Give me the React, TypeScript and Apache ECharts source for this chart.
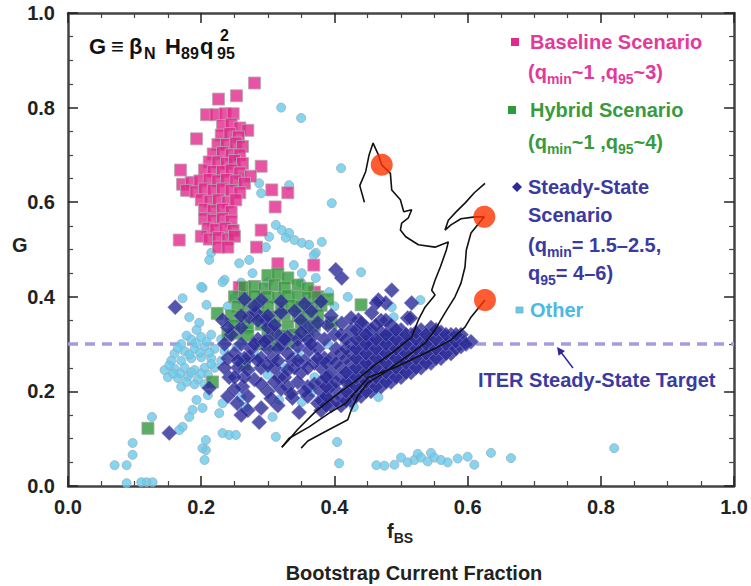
import React, { useEffect, useRef } from "react";
import * as echarts from "echarts";

const FONT = '"Liberation Sans", Arial, "DejaVu Sans", sans-serif';

// ---- data (G vs f_BS) ----
const baselinePts: number[][] = [
  [0.280, 0.852], [0.226, 0.818], [0.253, 0.825],
  [0.208, 0.785], [0.222, 0.785], [0.236, 0.787], [0.248, 0.787],
  [0.193, 0.734],
  [0.232, 0.762], [0.245, 0.765], [0.258, 0.757], [0.270, 0.752],
  [0.230, 0.742], [0.243, 0.745], [0.256, 0.738],
  [0.225, 0.722], [0.238, 0.722], [0.252, 0.725], [0.262, 0.718],
  [0.218, 0.702], [0.232, 0.705], [0.245, 0.700], [0.258, 0.700],
  [0.212, 0.685], [0.225, 0.685], [0.238, 0.682], [0.250, 0.688], [0.262, 0.682],
  [0.205, 0.668], [0.218, 0.665], [0.232, 0.665], [0.245, 0.668], [0.258, 0.662],
  [0.169, 0.668], [0.290, 0.676], [0.274, 0.655],
  [0.172, 0.638], [0.185, 0.642], [0.198, 0.645], [0.212, 0.648], [0.225, 0.645], [0.238, 0.648], [0.252, 0.645], [0.265, 0.640],
  [0.178, 0.625], [0.192, 0.622], [0.205, 0.628], [0.218, 0.625], [0.232, 0.628], [0.245, 0.625], [0.258, 0.620],
  [0.306, 0.626], [0.330, 0.620],
  [0.200, 0.605], [0.213, 0.602], [0.226, 0.605], [0.240, 0.600], [0.252, 0.605],
  [0.311, 0.590],
  [0.205, 0.585], [0.218, 0.582], [0.232, 0.585], [0.245, 0.580],
  [0.205, 0.565], [0.218, 0.562], [0.232, 0.565], [0.245, 0.560],
  [0.210, 0.545], [0.222, 0.542], [0.236, 0.545], [0.248, 0.540],
  [0.290, 0.541],
  [0.200, 0.528], [0.212, 0.522], [0.226, 0.525], [0.240, 0.522], [0.250, 0.528],
  [0.167, 0.520], [0.283, 0.505],
  [0.226, 0.505], [0.240, 0.505],
  [0.315, 0.470], [0.369, 0.467], [0.257, 0.420], [0.370, 0.410],
];

const hybridPts: number[][] = [
  [0.300, 0.445], [0.315, 0.448], [0.330, 0.440],
  [0.265, 0.420], [0.280, 0.422], [0.295, 0.418], [0.310, 0.425], [0.325, 0.420], [0.345, 0.425], [0.360, 0.418],
  [0.250, 0.400], [0.265, 0.398], [0.280, 0.402], [0.300, 0.400], [0.315, 0.398], [0.330, 0.402], [0.345, 0.400], [0.360, 0.398], [0.375, 0.400], [0.390, 0.395],
  [0.255, 0.380], [0.270, 0.378], [0.285, 0.382], [0.300, 0.380], [0.320, 0.378], [0.335, 0.382], [0.350, 0.380], [0.365, 0.378], [0.380, 0.382], [0.440, 0.383],
  [0.224, 0.365], [0.245, 0.360], [0.260, 0.358], [0.280, 0.362], [0.295, 0.360], [0.310, 0.358], [0.325, 0.362], [0.345, 0.360], [0.360, 0.358], [0.375, 0.362],
  [0.253, 0.323], [0.250, 0.340], [0.270, 0.338], [0.290, 0.342], [0.310, 0.340], [0.330, 0.338], [0.350, 0.342], [0.370, 0.340],
  [0.240, 0.320], [0.270, 0.318], [0.300, 0.322], [0.320, 0.318], [0.340, 0.320], [0.360, 0.318],
  [0.290, 0.300], [0.310, 0.298], [0.330, 0.302],
  [0.265, 0.258], [0.217, 0.220], [0.120, 0.122], [0.480, 0.315], [0.395, 0.345],
];

const steadyPts: number[][] = [
  [0.152, 0.112], [0.161, 0.378], [0.212, 0.207], [0.232, 0.351],
  [0.242, 0.230], [0.254, 0.175], [0.262, 0.210], [0.287, 0.135], [0.290, 0.165], [0.272, 0.273],
  [0.272, 0.357], [0.282, 0.367], [0.290, 0.393], [0.297, 0.350], [0.320, 0.367], [0.350, 0.350],
  [0.330, 0.315], [0.312, 0.323], [0.362, 0.287], [0.336, 0.266], [0.307, 0.270], [0.317, 0.230],
  [0.337, 0.186], [0.347, 0.156], [0.380, 0.250], [0.389, 0.188], [0.402, 0.203], [0.426, 0.281],
  [0.411, 0.344], [0.451, 0.309], [0.451, 0.252], [0.402, 0.457], [0.411, 0.440], [0.466, 0.393],
  [0.486, 0.414], [0.436, 0.351], [0.447, 0.336], [0.477, 0.387], [0.463, 0.387], [0.516, 0.387],
  [0.510, 0.355], [0.470, 0.350], [0.456, 0.366], [0.514, 0.355], [0.477, 0.350],
  [0.260, 0.300], [0.285, 0.310], [0.300, 0.290], [0.320, 0.300], [0.345, 0.310], [0.370, 0.320],
  [0.390, 0.340], [0.400, 0.320], [0.365, 0.370], [0.380, 0.390], [0.395, 0.360], [0.290, 0.250],
  [0.310, 0.250], [0.350, 0.240], [0.360, 0.210], [0.330, 0.210], [0.300, 0.200], [0.270, 0.190],
  [0.315, 0.170], [0.280, 0.225], [0.255, 0.250], [0.240, 0.270], [0.260, 0.335], [0.375, 0.175],
  [0.360, 0.190], [0.265, 0.270],
  [0.235, 0.300], [0.250, 0.280], [0.245, 0.320], [0.275, 0.290], [0.290, 0.270], [0.300, 0.310],
  [0.315, 0.290], [0.330, 0.280], [0.345, 0.295], [0.360, 0.310], [0.375, 0.290], [0.385, 0.270],
  [0.370, 0.260], [0.355, 0.265], [0.340, 0.250], [0.325, 0.230], [0.345, 0.220], [0.290, 0.215],
  [0.265, 0.230], [0.250, 0.205], [0.270, 0.160], [0.260, 0.150], [0.305, 0.185], [0.320, 0.205],
  [0.240, 0.190], [0.380, 0.200], [0.390, 0.230], [0.360, 0.335], [0.375, 0.345], [0.385, 0.310],
  [0.300, 0.335], [0.285, 0.350], [0.240, 0.335],
  [0.260, 0.360], [0.280, 0.380], [0.300, 0.360], [0.320, 0.390], [0.340, 0.370], [0.310, 0.340],
  [0.265, 0.395], [0.355, 0.385],
  [0.255, 0.265], [0.270, 0.245], [0.285, 0.265], [0.300, 0.255], [0.315, 0.265], [0.330, 0.245],
  [0.345, 0.265], [0.360, 0.250], [0.375, 0.270], [0.280, 0.300], [0.295, 0.305], [0.325, 0.310],
  [0.350, 0.325], [0.365, 0.300], [0.310, 0.220], [0.335, 0.195], [0.355, 0.200], [0.370, 0.215],
  [0.250, 0.230], [0.235, 0.250],
  [0.380, 0.160], [0.380, 0.180], [0.380, 0.220],
  [0.395, 0.170], [0.395, 0.210], [0.395, 0.240], [0.395, 0.270],
  [0.410, 0.170], [0.410, 0.190], [0.410, 0.230], [0.410, 0.250], [0.410, 0.280],
  [0.425, 0.180], [0.425, 0.200], [0.425, 0.220], [0.425, 0.240], [0.425, 0.260], [0.425, 0.300],
  [0.440, 0.190], [0.440, 0.210], [0.440, 0.230], [0.440, 0.250], [0.440, 0.270], [0.440, 0.290],
  [0.455, 0.200], [0.455, 0.220], [0.455, 0.240], [0.455, 0.260], [0.455, 0.280], [0.455, 0.300],
  [0.470, 0.210], [0.470, 0.230], [0.470, 0.250], [0.470, 0.270], [0.470, 0.290], [0.470, 0.310],
  [0.485, 0.220], [0.485, 0.240], [0.485, 0.260], [0.485, 0.280], [0.485, 0.300],
  [0.500, 0.230], [0.500, 0.250], [0.500, 0.270], [0.500, 0.290], [0.500, 0.310],
  [0.515, 0.240], [0.515, 0.260], [0.515, 0.280], [0.515, 0.300],
  [0.530, 0.250], [0.530, 0.270], [0.530, 0.290], [0.530, 0.310],
  [0.545, 0.260], [0.545, 0.280], [0.545, 0.300],
  [0.560, 0.270], [0.560, 0.290], [0.560, 0.310],
  [0.575, 0.280], [0.575, 0.300],
  [0.590, 0.295], [0.590, 0.310],
  [0.605, 0.305],
  [0.410, 0.320], [0.425, 0.330], [0.440, 0.315], [0.455, 0.330], [0.470, 0.325], [0.485, 0.320],
  [0.500, 0.330], [0.515, 0.320], [0.530, 0.330], [0.545, 0.320], [0.560, 0.325], [0.575, 0.320],
  [0.440, 0.345], [0.425, 0.355], [0.485, 0.340], [0.545, 0.335], [0.590, 0.320],
  [0.3875, 0.170], [0.3875, 0.190], [0.3875, 0.210], [0.3875, 0.230], [0.3875, 0.260],
  [0.4025, 0.180], [0.4025, 0.220], [0.4025, 0.260], [0.4025, 0.290],
  [0.4175, 0.180], [0.4175, 0.200], [0.4175, 0.220], [0.4175, 0.240], [0.4175, 0.270], [0.4175, 0.290], [0.4175, 0.310],
  [0.4325, 0.190], [0.4325, 0.210], [0.4325, 0.230], [0.4325, 0.250], [0.4325, 0.270], [0.4325, 0.290], [0.4325, 0.310], [0.4325, 0.330],
  [0.4475, 0.200], [0.4475, 0.220], [0.4475, 0.240], [0.4475, 0.260], [0.4475, 0.280], [0.4475, 0.300], [0.4475, 0.320],
  [0.4625, 0.210], [0.4625, 0.230], [0.4625, 0.250], [0.4625, 0.270], [0.4625, 0.290], [0.4625, 0.310], [0.4625, 0.340],
  [0.4775, 0.220], [0.4775, 0.240], [0.4775, 0.260], [0.4775, 0.280], [0.4775, 0.300], [0.4775, 0.320],
  [0.4925, 0.230], [0.4925, 0.250], [0.4925, 0.270], [0.4925, 0.290], [0.4925, 0.310], [0.4925, 0.330],
  [0.5075, 0.240], [0.5075, 0.260], [0.5075, 0.280], [0.5075, 0.300], [0.5075, 0.320],
  [0.5225, 0.250], [0.5225, 0.270], [0.5225, 0.290], [0.5225, 0.310], [0.5225, 0.325],
  [0.5375, 0.260], [0.5375, 0.280], [0.5375, 0.300], [0.5375, 0.320],
  [0.5525, 0.270], [0.5525, 0.290], [0.5525, 0.310], [0.5525, 0.330],
  [0.5675, 0.280], [0.5675, 0.300], [0.5675, 0.320],
  [0.5825, 0.290], [0.5825, 0.305], [0.5825, 0.320],
  [0.5975, 0.300],
];

const otherPts: number[][] = [
  [0.320, 0.800], [0.350, 0.778], [0.410, 0.672], [0.396, 0.598], [0.260, 0.651], [0.287, 0.640], [0.290, 0.619], [0.332, 0.636],
  [0.312, 0.552], [0.302, 0.527], [0.297, 0.505], [0.321, 0.541], [0.332, 0.535], [0.351, 0.514], [0.362, 0.510], [0.381, 0.516],
  [0.372, 0.493], [0.215, 0.493], [0.327, 0.525], [0.340, 0.520],
  [0.212, 0.478], [0.257, 0.471], [0.272, 0.478], [0.277, 0.450], [0.235, 0.436], [0.339, 0.467], [0.351, 0.450], [0.369, 0.488],
  [0.372, 0.440], [0.440, 0.452], [0.202, 0.419], [0.250, 0.397], [0.392, 0.410], [0.486, 0.378], [0.232, 0.431], [0.200, 0.421],
  [0.172, 0.397], [0.208, 0.383], [0.182, 0.357], [0.197, 0.345], [0.193, 0.330], [0.242, 0.345], [0.253, 0.294],
  [0.170, 0.300], [0.185, 0.310], [0.200, 0.315], [0.215, 0.320], [0.230, 0.310], [0.160, 0.280], [0.175, 0.285], [0.190, 0.290],
  [0.205, 0.295], [0.220, 0.290], [0.235, 0.285], [0.155, 0.265], [0.170, 0.265], [0.185, 0.270], [0.200, 0.272], [0.215, 0.270],
  [0.230, 0.265], [0.145, 0.245], [0.160, 0.248], [0.175, 0.250], [0.190, 0.245], [0.205, 0.250], [0.220, 0.250], [0.150, 0.230],
  [0.165, 0.228], [0.180, 0.232], [0.195, 0.225], [0.210, 0.235], [0.170, 0.210], [0.190, 0.215], [0.205, 0.215],
  [0.178, 0.318], [0.192, 0.302], [0.208, 0.305], [0.165, 0.292], [0.182, 0.278], [0.198, 0.282], [0.212, 0.282], [0.152, 0.255],
  [0.168, 0.238], [0.185, 0.240], [0.200, 0.238], [0.215, 0.258], [0.178, 0.220], [0.158, 0.238],
  [0.193, 0.182], [0.187, 0.161], [0.202, 0.165], [0.182, 0.146], [0.172, 0.125], [0.167, 0.118], [0.126, 0.146], [0.097, 0.091],
  [0.097, 0.066], [0.088, 0.044], [0.070, 0.044], [0.088, 0.006], [0.118, 0.008], [0.127, 0.008], [0.110, 0.008],
  [0.232, 0.175], [0.227, 0.154], [0.242, 0.108], [0.252, 0.108], [0.232, 0.112], [0.207, 0.097], [0.207, 0.076], [0.205, 0.055],
  [0.260, 0.188], [0.202, 0.080], [0.210, 0.192], [0.267, 0.167], [0.312, 0.104], [0.407, 0.048], [0.404, 0.093],
  [0.463, 0.044], [0.475, 0.043], [0.490, 0.045], [0.500, 0.060], [0.510, 0.050], [0.520, 0.055], [0.525, 0.068], [0.530, 0.060],
  [0.540, 0.052], [0.545, 0.070], [0.550, 0.060], [0.560, 0.055], [0.570, 0.050], [0.585, 0.058], [0.600, 0.062], [0.610, 0.045],
  [0.635, 0.070], [0.665, 0.059], [0.820, 0.080],
  [0.466, 0.188], [0.429, 0.167], [0.417, 0.224], [0.366, 0.199], [0.351, 0.178], [0.317, 0.182], [0.307, 0.146],
  [0.489, 0.357], [0.529, 0.393], [0.459, 0.323],
  [0.280, 0.280], [0.300, 0.235], [0.325, 0.250], [0.345, 0.280], [0.370, 0.230], [0.390, 0.300], [0.270, 0.330],
  [0.240, 0.380], [0.260, 0.430], [0.300, 0.430], [0.350, 0.430], [0.400, 0.380], [0.420, 0.400],
];

const endPts: number[][] = [[0.471, 0.679], [0.625, 0.569], [0.626, 0.393]];

const trajA: number[][] = [
  [0.445, 0.600], [0.438, 0.635], [0.447, 0.665], [0.452, 0.700], [0.458, 0.725], [0.466, 0.700], [0.471, 0.679],
  [0.484, 0.661], [0.486, 0.626], [0.499, 0.605], [0.504, 0.580], [0.516, 0.584], [0.511, 0.567], [0.501, 0.556],
  [0.499, 0.541], [0.507, 0.527], [0.526, 0.510], [0.551, 0.505], [0.571, 0.516], [0.568, 0.499], [0.559, 0.463],
  [0.551, 0.435], [0.546, 0.414], [0.551, 0.404], [0.536, 0.378], [0.526, 0.351], [0.516, 0.315], [0.490, 0.285],
  [0.460, 0.255], [0.430, 0.220], [0.400, 0.190], [0.370, 0.155], [0.345, 0.120], [0.330, 0.095], [0.321, 0.082],
];
const trajBTop: number[][] = [
  [0.626, 0.640], [0.610, 0.620], [0.596, 0.598], [0.583, 0.580], [0.571, 0.562], [0.566, 0.541],
  [0.575, 0.552], [0.590, 0.565], [0.611, 0.569], [0.625, 0.569],
];
const trajB: number[][] = [
  [0.625, 0.569], [0.605, 0.535], [0.598, 0.499], [0.596, 0.463], [0.590, 0.429], [0.581, 0.400], [0.566, 0.366],
  [0.551, 0.330], [0.536, 0.302], [0.500, 0.265], [0.470, 0.235], [0.450, 0.218], [0.435, 0.190], [0.425, 0.160],
  [0.420, 0.140], [0.390, 0.118], [0.360, 0.095], [0.350, 0.080],
];
const trajC: number[][] = [
  [0.626, 0.393], [0.605, 0.357], [0.596, 0.336], [0.575, 0.309], [0.550, 0.290], [0.520, 0.270], [0.490, 0.250],
  [0.451, 0.230], [0.417, 0.175], [0.392, 0.154], [0.362, 0.125], [0.332, 0.101], [0.321, 0.082],
];

const targetLine: number[][] = [[0, 0.3], [1, 0.3]];

// ---- text helpers ----
let measureCtx: CanvasRenderingContext2D | null = null;
function measure(text: string, font: string): number {
  if (!measureCtx) measureCtx = document.createElement("canvas").getContext("2d");
  if (!measureCtx) return text.length * 10;
  measureCtx.font = font;
  return measureCtx.measureText(text).width;
}
type Part = { t: string; k?: "sub" | "sup"; noAdv?: boolean; at?: number };
function richLine(x: number, y: number, parts: Part[], size: number, color: string, bold = true): any[] {
  const els: any[] = [];
  let cx = x;
  for (const p of parts) {
    const fs = p.k ? Math.round(size * 0.72) : size;
    const dy = p.k === "sub" ? size * 0.36 : p.k === "sup" ? -size * 0.5 : 0;
    const font = `${bold ? "bold " : ""}${fs}px ${FONT}`;
    if (p.at !== undefined) cx = p.at;
    els.push({
      type: "text",
      x: cx,
      y: y + dy,
      silent: true,
      style: { text: p.t, font, fill: color, align: "left", verticalAlign: "middle" },
    });
    if (!p.noAdv) cx += measure(p.t, font);
  }
  return els;
}

const PINK = "#e2288c";
const GREEN = "#2f9a3a";
const NAVY = "#2b2a96";
const CYAN = "#66caed";
const PINK_T = "#e23a98";
const GREEN_T = "#3a9a3e";
const NAVY_T = "#3a3aa0";
const CYAN_T = "#4db8e2";

function axisCommon(show: boolean) {
  return {
    type: "value",
    min: 0,
    max: 1,
    interval: 0.2,
    axisLine: { show: true, onZero: false, lineStyle: { color: "#444", width: 2.5 } },
    axisTick: { show: true, inside: true, length: 10, lineStyle: { color: "#222", width: 1.5 } },
    minorTick: { show: true, splitNumber: 4, length: 5, lineStyle: { color: "#444", width: 1.2 } },
    splitLine: { show: false },
    axisLabel: {
      show,
      fontSize: 20,
      fontWeight: "bold",
      fontFamily: FONT,
      color: "#222",
      formatter: (v: number) => v.toFixed(1),
    },
  };
}

export default function App() {
  const ref = useRef<HTMLDivElement>(null);
  useEffect(() => {
    if (!ref.current) return;
    const chart = echarts.init(ref.current, undefined, { renderer: "svg" });

    const graphics: any[] = [
      // formula
      ...richLine(89, 46, [
        { t: "G", at: 89 }, { t: "≡", at: 111 }, { t: "β", at: 129 }, { t: "N", k: "sub", at: 144 },
        { t: "H", at: 165 }, { t: "89", k: "sub", at: 181 }, { t: "q", at: 200 },
        { t: "2", k: "sup", at: 220 }, { t: "95", k: "sub", at: 217 },
      ], 22, "#111", true),
      // legend: baseline
      { type: "rect", silent: true, shape: { x: 511, y: 38, width: 8, height: 8 }, style: { fill: PINK } },
      ...richLine(530, 42, [{ t: "Baseline Scenario" }], 20, PINK_T),
      ...richLine(528, 72, [{ t: "(q" }, { t: "min", k: "sub" }, { t: "~1 ,q" }, { t: "95", k: "sub" }, { t: "~3)" }], 20, PINK_T),
      // hybrid
      { type: "rect", silent: true, shape: { x: 508, y: 106, width: 8, height: 8 }, style: { fill: GREEN } },
      ...richLine(530, 110, [{ t: "Hybrid Scenario" }], 20, GREEN_T),
      ...richLine(528, 142, [{ t: "(q" }, { t: "min", k: "sub" }, { t: "~1 ,q" }, { t: "95", k: "sub" }, { t: "~4)" }], 20, GREEN_T),
      // steady
      { type: "polygon", silent: true, shape: { points: [[517, 182], [522, 187], [517, 192], [512, 187]] }, style: { fill: NAVY } },
      ...richLine(528, 187, [{ t: "Steady-State" }], 20, NAVY_T),
      ...richLine(528, 215, [{ t: "Scenario" }], 20, NAVY_T),
      ...richLine(528, 245, [{ t: "(q" }, { t: "min", k: "sub" }, { t: "= 1.5–2.5," }], 20, NAVY_T),
      ...richLine(528, 273, [{ t: "q" }, { t: "95", k: "sub" }, { t: "= 4–6)" }], 20, NAVY_T),
      // other
      { type: "rect", silent: true, shape: { x: 516, y: 307, width: 7, height: 6 }, style: { fill: CYAN, stroke: "#8ab", lineWidth: 0.8 } },
      ...richLine(530, 310, [{ t: "Other" }], 20, CYAN_T),
      // ITER target label + arrow
      ...richLine(478, 380, [{ t: "ITER Steady-State Target" }], 20, NAVY_T),
      { type: "line", silent: true, shape: { x1: 573, y1: 368, x2: 560, y2: 351 }, style: { stroke: NAVY, lineWidth: 1.5 } },
      { type: "polygon", silent: true, shape: { points: [[557, 347], [565, 351], [558.6, 355.8]] }, style: { fill: NAVY } },
      // axis names
      ...richLine(12, 245, [{ t: "G" }], 20, "#222"),
      ...richLine(387, 531, [{ t: "f" }, { t: "BS", k: "sub" }], 20, "#222"),
      {
        type: "text", silent: true, x: 414, y: 573,
        style: { text: "Bootstrap Current Fraction", font: `bold 20px ${FONT}`, fill: "#222", align: "center", verticalAlign: "middle" },
      },
    ];

    const trajStyle = { color: "#111", width: 1.6 };
    const traj = (name: string, data: number[][]) => ({
      name, type: "line", data, showSymbol: false, symbol: "none", z: 5,
      lineStyle: trajStyle, silent: true,
    });

    chart.setOption({
      animation: false,
      backgroundColor: "#fff",
      grid: { left: 68, right: 14, top: 13, bottom: 100, containLabel: false },
      xAxis: [
        { ...axisCommon(true), position: "bottom", axisLabel: { ...axisCommon(true).axisLabel, margin: 11 } },
        { ...axisCommon(false), position: "top" },
      ],
      yAxis: [
        { ...axisCommon(true), position: "left", axisLabel: { ...axisCommon(true).axisLabel, margin: 13 } },
        { ...axisCommon(false), position: "right" },
      ],
      series: [
        {
          name: "ITER target", type: "line", data: targetLine, showSymbol: false, symbol: "none", z: 1,
          lineStyle: { color: "#a29ddb", width: 3.5, type: [10, 7] }, silent: true,
        },
        {
          name: "Other", type: "scatter", data: otherPts, symbol: "circle", symbolSize: 9, z: 2,
          itemStyle: { color: CYAN, borderColor: "#9aaebb", borderWidth: 1 },
        },
        {
          name: "Baseline", type: "scatter", data: baselinePts, symbol: "rect", symbolSize: 12, z: 3,
          itemStyle: { color: PINK, borderColor: "#b7a7b0", borderWidth: 1 },
        },
        {
          name: "Hybrid", type: "scatter", data: hybridPts, symbol: "rect", symbolSize: 12, z: 3,
          itemStyle: { color: GREEN, borderColor: "#9aa89a", borderWidth: 1 },
        },
        {
          name: "Steady-State", type: "scatter", data: steadyPts, symbol: "diamond", symbolSize: 15, z: 4,
          itemStyle: { color: NAVY, borderColor: "#7d7ac6", borderWidth: 0.8 },
        },
        traj("trajA", trajA),
        traj("trajBTop", trajBTop),
        traj("trajB", trajB),
        traj("trajC", trajC),
        {
          name: "End points", type: "scatter", data: endPts, symbol: "circle", symbolSize: 22, z: 6,
          itemStyle: { color: "#ff3300" },
        },
      ],
      graphic: graphics,
    });
    return () => chart.dispose();
  }, []);
  return <div ref={ref} style={{ position: "fixed", left: 0, top: 0, width: 751, height: 586 }} />;
}
